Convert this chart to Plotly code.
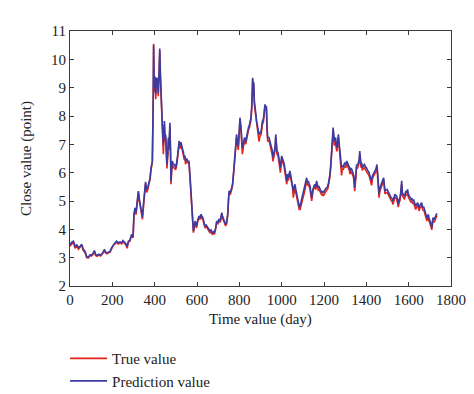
import plotly.graph_objects as go

days = [0, 8, 16, 24, 32, 40, 48, 55, 63, 71, 79, 87, 95, 102, 109, 115, 121, 128, 136, 144, 150, 156, 162, 168, 175, 182, 189, 197, 205, 212, 220, 228, 236, 244, 250, 258, 265, 270, 276, 283, 291, 298, 302, 307, 312, 317, 323, 327, 331, 337, 342, 347, 351, 357, 362, 367, 373, 378, 383, 389, 393, 395, 398, 401, 405, 409, 414, 417, 421, 424, 427, 430, 433, 436, 441, 446, 449, 452, 455, 458, 462, 465, 468, 472, 475, 477, 480, 483, 488, 493, 499, 504, 509, 513, 516, 520, 524, 528, 531, 536, 540, 543, 546, 551, 556, 562, 567, 572, 578, 583, 587, 591, 595, 598, 604, 610, 615, 619, 624, 628, 633, 638, 644, 650, 655, 661, 666, 672, 677, 682, 688, 693, 699, 704, 710, 717, 721, 724, 730, 735, 740, 745, 751, 757, 764, 768, 772, 776, 780, 784, 787, 791, 795, 799, 803, 808, 811, 814, 819, 824, 830, 835, 840, 843, 848, 855, 859, 863, 866, 868, 871, 874, 877, 882, 887, 893, 898, 903, 909, 914, 918, 921, 925, 928, 931, 934, 940, 945, 950, 955, 959, 965, 969, 972, 975, 978, 983, 987, 991, 994, 1000, 1004, 1008, 1012, 1016, 1020, 1024, 1028, 1031, 1035, 1039, 1043, 1047, 1051, 1055, 1059, 1063, 1067, 1071, 1075, 1079, 1083, 1087, 1091, 1094, 1098, 1102, 1106, 1110, 1114, 1118, 1122, 1126, 1130, 1134, 1138, 1142, 1146, 1150, 1154, 1157, 1161, 1165, 1169, 1173, 1177, 1181, 1185, 1189, 1193, 1197, 1201, 1205, 1209, 1213, 1217, 1220, 1224, 1228, 1232, 1236, 1240, 1243, 1246, 1249, 1252, 1255, 1258, 1261, 1265, 1268, 1272, 1276, 1280, 1283, 1287, 1291, 1295, 1299, 1303, 1307, 1311, 1315, 1319, 1323, 1327, 1331, 1335, 1339, 1342, 1345, 1350, 1354, 1358, 1362, 1366, 1369, 1372, 1375, 1378, 1381, 1386, 1391, 1396, 1400, 1405, 1409, 1413, 1417, 1421, 1425, 1429, 1433, 1437, 1441, 1446, 1450, 1454, 1457, 1460, 1464, 1469, 1472, 1476, 1482, 1485, 1488, 1493, 1498, 1502, 1507, 1512, 1517, 1521, 1526, 1530, 1535, 1539, 1543, 1547, 1551, 1555, 1559, 1563, 1567, 1570, 1573, 1577, 1580, 1584, 1587, 1591, 1595, 1598, 1602, 1606, 1611, 1615, 1619, 1623, 1627, 1630, 1633, 1638, 1643, 1646, 1649, 1653, 1657, 1661, 1665, 1668, 1671, 1674, 1677, 1680, 1684, 1687, 1690, 1693, 1696, 1699, 1703, 1706, 1709, 1712, 1715, 1718, 1721, 1725, 1728, 1731, 1735]

prediction_value = [3.45, 3.55, 3.58, 3.40, 3.45, 3.36, 3.40, 3.47, 3.30, 3.22, 3.04, 3.02, 3.10, 3.09, 3.15, 3.25, 3.12, 3.08, 3.12, 3.09, 3.12, 3.18, 3.29, 3.20, 3.17, 3.20, 3.22, 3.35, 3.47, 3.52, 3.58, 3.52, 3.56, 3.53, 3.60, 3.55, 3.48, 3.40, 3.58, 3.62, 3.82, 3.75, 4.53, 4.76, 4.60, 4.95, 5.35, 5.10, 4.95, 4.70, 4.42, 4.90, 5.35, 5.68, 5.40, 5.47, 5.65, 5.80, 6.18, 6.41, 8.50, 10.50, 9.00, 9.40, 8.76, 9.35, 9.30, 8.80, 9.60, 10.38, 9.50, 8.76, 8.20, 7.70, 6.99, 7.82, 7.20, 7.35, 6.80, 6.29, 6.70, 7.24, 6.90, 7.76, 6.80, 5.70, 6.10, 6.41, 6.30, 6.29, 6.18, 6.35, 6.65, 6.90, 7.12, 6.95, 7.08, 6.95, 6.88, 6.70, 6.53, 6.60, 6.41, 6.50, 6.41, 6.40, 5.90, 5.24, 4.53, 3.94, 4.10, 4.29, 4.20, 4.12, 4.35, 4.47, 4.42, 4.53, 4.45, 4.41, 4.25, 4.12, 4.15, 4.06, 4.00, 3.94, 3.98, 3.88, 3.92, 3.88, 4.05, 4.29, 4.25, 4.35, 4.30, 4.59, 4.45, 4.38, 4.30, 4.18, 4.25, 4.53, 5.35, 5.30, 5.47, 5.60, 5.94, 6.30, 6.65, 7.00, 7.35, 7.10, 6.94, 7.40, 7.94, 7.59, 7.10, 6.88, 7.00, 7.24, 7.10, 7.35, 7.45, 7.59, 7.70, 7.94, 8.40, 9.35, 8.80, 9.20, 8.53, 8.30, 8.06, 7.80, 7.60, 7.35, 7.40, 7.47, 7.82, 7.90, 8.18, 8.41, 8.30, 8.35, 7.60, 7.24, 7.24, 7.10, 6.99, 6.80, 6.53, 6.70, 6.90, 7.35, 7.00, 6.76, 6.70, 6.53, 6.45, 6.18, 6.59, 6.45, 6.41, 6.30, 6.06, 6.00, 5.71, 5.95, 5.82, 5.95, 6.06, 5.90, 5.71, 5.60, 5.35, 5.50, 5.59, 5.40, 5.24, 5.10, 4.88, 4.80, 4.82, 4.95, 5.06, 5.10, 5.24, 5.35, 5.59, 5.65, 5.82, 5.65, 5.71, 5.60, 5.53, 5.30, 5.12, 5.35, 5.53, 5.55, 5.59, 5.50, 5.71, 5.60, 5.47, 5.50, 5.41, 5.38, 5.29, 5.35, 5.29, 5.35, 5.41, 5.45, 5.47, 5.50, 5.59, 5.75, 5.94, 6.30, 6.65, 7.20, 7.59, 7.30, 7.12, 7.20, 7.24, 7.00, 6.88, 7.10, 7.35, 7.00, 6.65, 6.40, 6.18, 6.25, 6.20, 6.30, 6.35, 6.28, 6.41, 6.35, 6.30, 6.20, 6.06, 6.15, 6.12, 6.05, 5.94, 5.80, 5.47, 5.90, 6.29, 6.25, 6.35, 6.45, 6.76, 6.50, 6.29, 6.35, 6.18, 6.25, 6.29, 6.20, 6.18, 6.10, 6.06, 6.00, 5.88, 5.80, 5.71, 5.90, 5.94, 6.00, 6.06, 6.15, 6.29, 5.94, 5.60, 5.24, 5.45, 5.59, 5.65, 5.71, 5.82, 5.60, 5.35, 5.40, 5.41, 5.35, 5.24, 5.20, 5.12, 5.10, 5.00, 5.10, 5.24, 5.20, 5.18, 5.05, 4.88, 5.05, 5.12, 5.35, 5.71, 5.30, 5.24, 5.20, 5.18, 5.30, 5.35, 5.30, 5.41, 5.25, 5.18, 5.12, 5.06, 5.10, 5.00, 5.05, 4.94, 4.90, 4.82, 4.90, 4.94, 4.85, 4.76, 4.85, 4.88, 4.94, 4.82, 4.76, 4.80, 4.71, 4.60, 4.47, 4.45, 4.40, 4.50, 4.53, 4.40, 4.29, 4.25, 4.18, 4.06, 4.25, 4.41, 4.38, 4.35, 4.45, 4.50, 4.53, 4.55]

true_value = [3.40, 3.50, 3.55, 3.33, 3.42, 3.30, 3.37, 3.45, 3.25, 3.18, 3.00, 2.99, 3.08, 3.06, 3.12, 3.22, 3.08, 3.05, 3.10, 3.06, 3.10, 3.16, 3.25, 3.17, 3.14, 3.18, 3.19, 3.32, 3.44, 3.48, 3.55, 3.48, 3.53, 3.49, 3.57, 3.50, 3.44, 3.33, 3.55, 3.58, 3.78, 3.70, 4.45, 4.70, 4.52, 4.88, 5.30, 5.00, 4.88, 4.60, 4.35, 4.85, 5.28, 5.62, 5.30, 5.40, 5.60, 5.75, 6.12, 6.35, 8.40, 10.55, 8.85, 9.30, 8.59, 9.25, 9.20, 8.70, 9.50, 10.30, 9.40, 8.65, 8.10, 7.55, 6.65, 7.70, 7.10, 7.25, 6.65, 6.15, 6.60, 7.15, 6.80, 7.65, 6.60, 5.59, 6.00, 6.30, 6.20, 6.15, 6.10, 6.25, 6.55, 6.80, 7.05, 6.85, 7.00, 6.85, 6.80, 6.60, 6.45, 6.50, 6.30, 6.40, 6.35, 6.35, 5.80, 5.15, 4.45, 3.88, 4.05, 4.22, 4.12, 4.05, 4.30, 4.40, 4.35, 4.48, 4.38, 4.35, 4.18, 4.05, 4.10, 4.00, 3.95, 3.88, 3.92, 3.83, 3.86, 3.82, 4.00, 4.25, 4.20, 4.30, 4.25, 4.55, 4.40, 4.32, 4.25, 4.12, 4.20, 4.48, 5.28, 5.22, 5.40, 5.55, 5.88, 6.20, 6.55, 6.90, 7.25, 7.00, 6.80, 7.30, 7.85, 7.50, 6.95, 6.65, 6.90, 7.15, 7.00, 7.25, 7.35, 7.50, 7.60, 7.85, 8.30, 9.30, 8.70, 9.10, 8.40, 8.20, 7.95, 7.70, 7.50, 7.10, 7.30, 7.35, 7.70, 7.80, 8.10, 8.35, 8.20, 8.25, 7.45, 7.10, 7.15, 7.00, 6.85, 6.65, 6.40, 6.60, 6.80, 7.25, 6.90, 6.65, 6.60, 6.40, 6.30, 6.00, 6.50, 6.35, 6.30, 6.20, 5.95, 5.90, 5.59, 5.85, 5.72, 5.85, 5.95, 5.80, 5.60, 5.50, 5.12, 5.40, 5.50, 5.30, 5.12, 5.00, 4.78, 4.70, 4.70, 4.85, 4.95, 5.00, 5.15, 5.25, 5.50, 5.55, 5.72, 5.55, 5.60, 5.50, 5.42, 5.20, 5.00, 5.25, 5.45, 5.45, 5.50, 5.40, 5.62, 5.50, 5.38, 5.40, 5.30, 5.28, 5.20, 5.25, 5.18, 5.25, 5.32, 5.35, 5.38, 5.42, 5.50, 5.65, 5.85, 6.20, 6.55, 7.10, 7.50, 7.20, 6.95, 7.10, 7.10, 6.85, 6.75, 7.00, 7.25, 6.90, 6.50, 6.25, 5.90, 6.15, 6.10, 6.20, 6.25, 6.18, 6.30, 6.25, 6.20, 6.10, 5.95, 6.05, 6.00, 5.95, 5.85, 5.65, 5.35, 5.80, 6.20, 6.15, 6.25, 6.35, 6.65, 6.40, 6.18, 6.25, 6.08, 6.15, 6.18, 6.10, 6.05, 6.00, 5.95, 5.90, 5.78, 5.70, 5.55, 5.80, 5.85, 5.90, 5.95, 6.05, 6.20, 5.82, 5.45, 5.12, 5.35, 5.48, 5.55, 5.60, 5.72, 5.50, 5.25, 5.30, 5.30, 5.25, 5.15, 5.10, 5.02, 5.00, 4.88, 5.00, 5.15, 5.10, 5.08, 4.95, 4.78, 4.95, 5.02, 5.25, 5.60, 5.20, 5.12, 5.10, 5.08, 5.20, 5.25, 5.20, 5.30, 5.15, 5.08, 5.02, 4.95, 5.00, 4.90, 4.95, 4.85, 4.80, 4.70, 4.80, 4.85, 4.75, 4.65, 4.75, 4.78, 4.85, 4.72, 4.66, 4.70, 4.60, 4.50, 4.38, 4.35, 4.30, 4.40, 4.45, 4.30, 4.18, 4.15, 4.08, 3.98, 4.15, 4.30, 4.28, 4.25, 4.35, 4.40, 4.45, 4.48]

x_ticks = [0, 200, 400, 600, 800, 1000, 1200, 1400, 1600, 1800]
y_ticks = [2, 3, 4, 5, 6, 7, 8, 9, 10, 11]

FONT = "Liberation Serif"
AX = "#3a3a3a"

fig = go.Figure()
fig.add_trace(go.Scatter(x=days, y=true_value, mode="lines", name="True value",
                         line=dict(color="#e4241c", width=1.6)))
fig.add_trace(go.Scatter(x=days, y=prediction_value, mode="lines", name="Prediction value",
                         line=dict(color="#3c3ca0", width=1.6)))

axis_common = dict(showline=True, linecolor=AX, linewidth=1.2, mirror="ticks",
                   ticks="inside", ticklen=4, tickwidth=1, tickcolor=AX,
                   showgrid=False, zeroline=False,
                   tickfont=dict(family=FONT, size=15, color="#222"))

fig.update_xaxes(range=[0, 1800], tickvals=x_ticks, ticktext=[str(v) for v in x_ticks],
                 title=dict(text="Time value (day)", font=dict(family=FONT, size=15, color="#222"), standoff=6),
                 **axis_common)
fig.update_yaxes(range=[2, 11], tickvals=y_ticks, ticktext=[str(v) for v in y_ticks],
                 title=dict(text="Close value (point)", font=dict(family=FONT, size=15, color="#222"), standoff=15),
                 **axis_common)

fig.update_layout(
    width=474, height=394,
    margin=dict(l=62, r=31, t=23, b=116, autoexpand=False),
    paper_bgcolor="white", plot_bgcolor="white",
    font=dict(family=FONT, size=15, color="#222"),
    showlegend=True,
    legend=dict(x=-0.013, xanchor="left", y=-0.22, yanchor="top",
                orientation="v", itemwidth=37, tracegroupgap=0,
                font=dict(family=FONT, size=15, color="#222"),
                bgcolor="rgba(0,0,0,0)"),
)

fig.write_html("out.html")
